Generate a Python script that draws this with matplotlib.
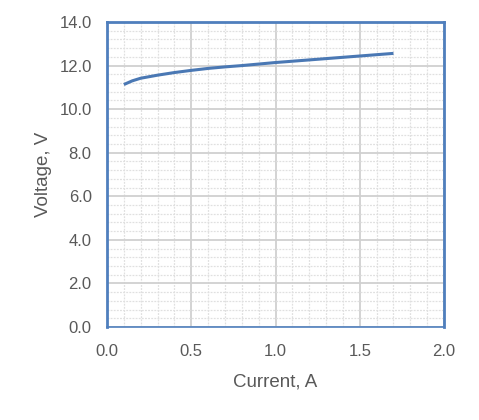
import matplotlib
matplotlib.use("Agg")
import matplotlib.pyplot as plt
from matplotlib.ticker import MultipleLocator, FormatStrFormatter

current = [0.1, 0.15, 0.2, 0.3, 0.4, 0.5, 0.6, 0.7, 0.8, 0.9, 1.0, 1.1, 1.2, 1.3, 1.4, 1.5, 1.6, 1.7]
voltage = [11.13, 11.3, 11.42, 11.56, 11.68, 11.78, 11.87, 11.94, 12.0, 12.07, 12.14, 12.2, 12.26, 12.32, 12.38, 12.44, 12.5, 12.56]

plt.rcParams['font.family'] = ['Liberation Sans', 'DejaVu Sans']
txt = '#595959'

fig = plt.figure(figsize=(4.79, 4.2), dpi=100)
ax = fig.add_axes([0.2234, 0.2214, 0.927 - 0.2234, 0.9476 - 0.2214])

ax.plot(current, voltage, color='#4a78b4', lw=2.2, solid_capstyle='butt', zorder=3)

ax.set_xlim(0, 2.0)
ax.set_ylim(0, 14.0)
ax.xaxis.set_major_locator(MultipleLocator(0.5))
ax.xaxis.set_minor_locator(MultipleLocator(0.1))
ax.yaxis.set_major_locator(MultipleLocator(2.0))
ax.yaxis.set_minor_locator(MultipleLocator(0.4))
ax.xaxis.set_major_formatter(FormatStrFormatter('%.1f'))
ax.yaxis.set_major_formatter(FormatStrFormatter('%.1f'))

ax.grid(which='major', color='#d0d0d0', lw=1.3)
ax.grid(which='minor', color='#e0e0e0', lw=0.9, linestyle=(0, (1.5, 1)))
ax.set_axisbelow(True)

for s in ax.spines.values():
    s.set_color('#4f7fbd')
    s.set_linewidth(2.0)
ax.spines['bottom'].set_linewidth(1.2)

ax.tick_params(which='both', length=0, labelsize=12, labelcolor=txt)
ax.tick_params(axis='x', pad=12)
ax.tick_params(axis='y', pad=11)
ax.set_xlabel('Current, A', fontsize=13.5, color=txt, labelpad=11)
ax.set_ylabel('Voltage, V', fontsize=13.5, color=txt, labelpad=5)

fig.savefig('out.png', dpi=100)
